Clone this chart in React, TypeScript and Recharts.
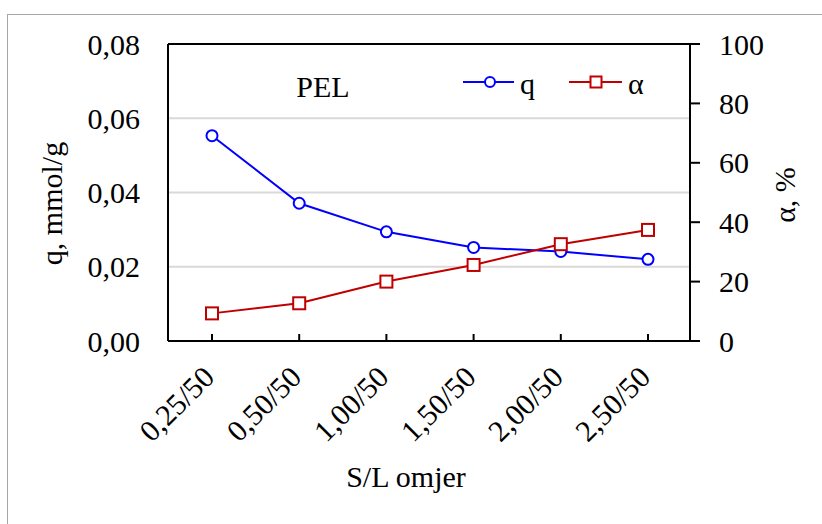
import React from 'react';
import { LineChart, Line, XAxis, YAxis, CartesianGrid, ReferenceLine } from 'recharts';

const categories = ['0,25/50', '0,50/50', '1,00/50', '1,50/50', '2,00/50', '2,50/50'];
const qValues = [0.0553, 0.0371, 0.0294, 0.0252, 0.0241, 0.022];
const alphaValues = [9.3, 12.7, 20.0, 25.6, 32.6, 37.4];
const leftTicks = [0, 0.02, 0.04, 0.06, 0.08];
const rightTicks = [0, 20, 40, 60, 80, 100];

const data = categories.map((c, i) => ({ cat: c, q: qValues[i], alpha: alphaValues[i] }));

const FONT = "'Liberation Serif', 'Times New Roman', Tinos, 'DejaVu Serif', serif";
const BLUE = '#0000FF';
const RED = '#C00000';

const fontStyle = { fontFamily: FONT };

const XTick = (props: any) => {
  const { x, y, payload } = props;
  const tx = x + 4;
  const ty = y + 38;
  return (
    <g>
      <line x1={x} x2={x} y1={y} y2={y - 7} stroke="#000" strokeWidth={2} />
      <text
        x={tx}
        y={ty}
        transform={`rotate(-45 ${tx} ${ty})`}
        textAnchor="end"
        style={fontStyle}
        fontSize={30}
        fill="#000"
      >
        {payload.value}
      </text>
    </g>
  );
};

const SquareDot = (props: any) => {
  const { cx, cy } = props;
  if (cx == null || cy == null) return null;
  return <rect x={cx - 6} y={cy - 6} width={12} height={12} fill="#fff" stroke={RED} strokeWidth={2} />;
};

const txt = { style: fontStyle, fontSize: 30, fill: '#000' };

export default function App() {
  return (
    <div style={{ position: 'absolute', left: 0, top: 0, width: 822, height: 524, overflow: 'hidden', background: '#fff', fontFamily: FONT }}>
      <div
        style={{
          position: 'absolute',
          left: 7,
          top: 14,
          width: 900,
          height: 600,
          borderLeft: '1px solid #a6a6a6',
          borderTop: '1px solid #a6a6a6',
        }}
      />
      <div style={{ position: 'absolute', left: 0, top: 0 }}>
        <LineChart width={822} height={524} data={data} margin={{ top: 44, right: 0, bottom: 0, left: 0 }}>
          <CartesianGrid yAxisId="left" vertical={false} stroke="#d9d9d9" strokeWidth={2} />
          <XAxis
            dataKey="cat"
            height={183}
            padding={{ left: 44, right: 42 }}
            axisLine={{ stroke: '#000', strokeWidth: 2 }}
            tickLine={false}
            tickSize={0}
            tickMargin={0}
            interval={0}
            tick={<XTick />}
          />
          <YAxis
            yAxisId="left"
            width={168}
            domain={[0, 0.08]}
            ticks={leftTicks}
            interval={0}
            tickFormatter={(v: number) => v.toFixed(2).replace('.', ',')}
            axisLine={{ stroke: '#000', strokeWidth: 2 }}
            tickLine={false}
            tickSize={0}
            tickMargin={28}
            tick={{ fill: '#000', fontSize: 30, style: fontStyle }}
          />
          <YAxis
            yAxisId="right"
            orientation="right"
            width={132}
            domain={[0, 100]}
            ticks={rightTicks}
            interval={0}
            axisLine={{ stroke: '#000', strokeWidth: 2 }}
            tickLine={{ stroke: '#000', strokeWidth: 2 }}
            tickSize={10}
            tickMargin={19}
            tick={{ fill: '#000', fontSize: 30, style: fontStyle }}
          />
          <ReferenceLine yAxisId="left" y={0.08} stroke="#000" strokeWidth={2} />
          <Line
            yAxisId="left"
            dataKey="q"
            stroke={BLUE}
            strokeWidth={2}
            dot={{ r: 5.5, stroke: BLUE, strokeWidth: 2, fill: '#fff' }}
            isAnimationActive={false}
          />
          <Line
            yAxisId="right"
            dataKey="alpha"
            stroke={RED}
            strokeWidth={2}
            dot={<SquareDot />}
            isAnimationActive={false}
          />
          <text x={62} y={203.5} transform="rotate(-90 62 203.5)" textAnchor="middle" {...txt}>
            q, mmol/g
          </text>
          <text x={795} y={195} transform="rotate(-90 795 195)" textAnchor="middle" {...txt}>
            α, %
          </text>
          <text x={406} y={487} textAnchor="middle" {...txt}>
            S/L omjer
          </text>
          <text x={323} y={97} textAnchor="middle" {...txt}>
            PEL
          </text>
          <line x1={463} x2={514} y1={82} y2={82} stroke={BLUE} strokeWidth={2} />
          <circle cx={490} cy={82} r={5} fill="#fff" stroke={BLUE} strokeWidth={2} />
          <text x={520} y={94} {...txt}>
            q
          </text>
          <line x1={569} x2={622} y1={82} y2={82} stroke={RED} strokeWidth={2} />
          <rect x={590.5} y={76.5} width={11} height={11} fill="#fff" stroke={RED} strokeWidth={2} />
          <text x={628} y={94} {...txt}>
            α
          </text>
        </LineChart>
      </div>
    </div>
  );
}
